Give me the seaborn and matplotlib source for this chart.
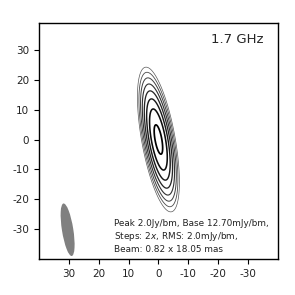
import numpy as np
import seaborn as sns
import matplotlib
matplotlib.use("Agg")
import matplotlib.pyplot as plt
from matplotlib.patches import Ellipse

# source model
peak_mjy = 2000.0
base_mjy = 12.70
n_levels = 8
src_major_sigma = 7.73   # mas
src_minor_sigma = 1.76   # mas
src_pa = 10.2            # deg, tilt of major axis from north towards east

# restoring beam as drawn
beam_xy = (30.4, -30.2)
beam_size = (3.8, 17.8)
beam_pa = 9.0

levels = [base_mjy * 2 ** k for k in range(n_levels)]
label = "Peak 2.0Jy/bm, Base 12.70mJy/bm,\nSteps: 2$x$, RMS: 2.0mJy/bm,\nBeam: 0.82 x 18.05 mas"

sns.set_theme(style="ticks")
plt.rcParams['font.family'] = ['DejaVu Sans']
plt.rcParams['axes.unicode_minus'] = False

x = np.linspace(-40, 40, 601)
y = np.linspace(-40, 40, 601)
X, Y = np.meshgrid(x, y)
s, c = np.sin(np.radians(src_pa)), np.cos(np.radians(src_pa))
u = X * s + Y * c
v = X * c - Y * s
img = peak_mjy * np.exp(-0.5 * ((u / src_major_sigma) ** 2 + (v / src_minor_sigma) ** 2))

fig = plt.figure(figsize=(2.95, 2.95), dpi=100)
ax = fig.add_axes([0.132, 0.122, 0.81, 0.80])
lw = np.linspace(0.5, 1.25, n_levels)
cols = [plt.cm.gray(0.35 - 0.35 * k / (n_levels - 1)) for k in range(n_levels)]
ax.contour(X, Y, img, levels=levels, colors=cols, linewidths=lw)

ax.add_patch(Ellipse(beam_xy, beam_size[0], beam_size[1], angle=-beam_pa,
                     facecolor="gray", edgecolor="none"))

ax.set_xlim(40, -40)
ax.set_ylim(-40, 39)
ax.set_xticks([30, 20, 10, 0, -10, -20, -30])
ax.set_yticks([30, 20, 10, 0, -10, -20, -30])
ax.tick_params(labelsize=7.5, length=3.5, width=0.8, pad=3.5, colors="black", labelcolor="#222222")
for sp in ax.spines.values():
    sp.set_linewidth(1.0)
    sp.set_color("black")

ax.text(0.94, 0.93, "1.7 GHz", transform=ax.transAxes, ha="right", va="center", fontsize=9.5)
ax.text(14.8, -38.3, label, ha="left", va="bottom", fontsize=6.4, linespacing=1.25, color="#222222")

fig.savefig("out.png", dpi=100)
